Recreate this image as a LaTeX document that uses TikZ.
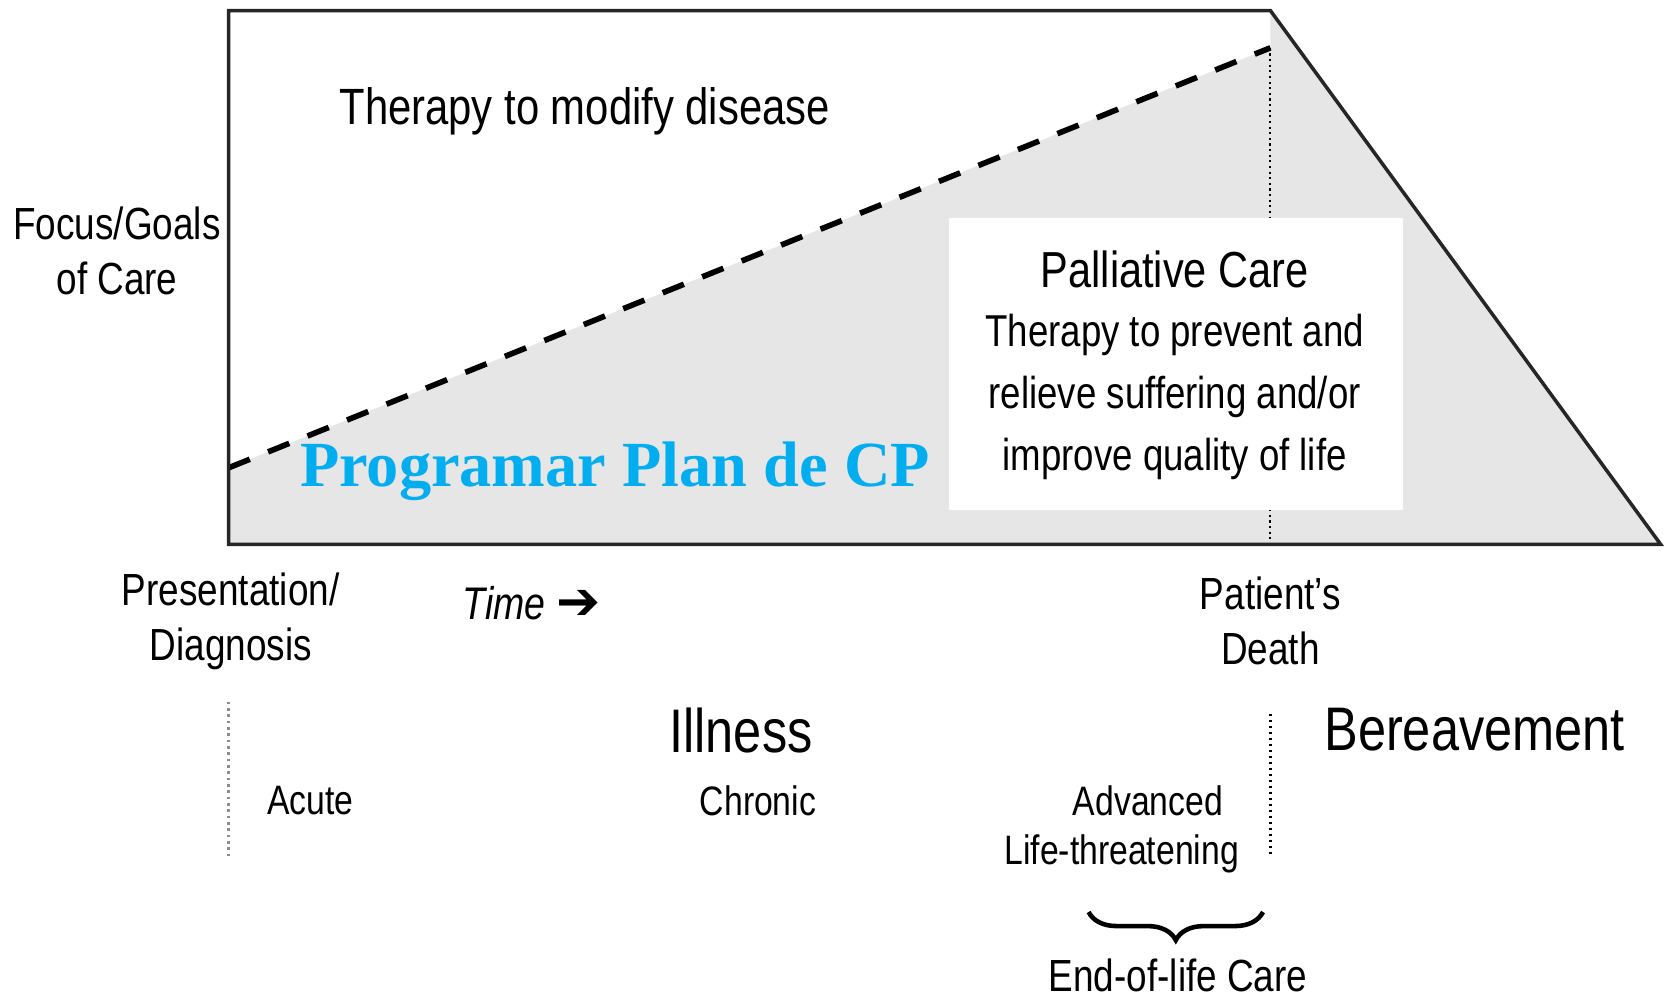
\documentclass[tikz,border=0pt]{standalone}
\usepackage{fontspec}
\setmainfont{Liberation Sans}[FakeStretch=0.82]
\newfontfamily\cpfont{Liberation Serif}
\newfontfamily\arrowfont{DejaVu Sans}
\usetikzlibrary{decorations.pathreplacing}
\definecolor{caregray}{RGB}{230,230,230}
\definecolor{cpblue}{RGB}{0,174,239}

\begin{document}
\begin{tikzpicture}[x=0.01cm,y=-0.01cm,
  lbl/.style={inner sep=0pt, align=center},
  small/.style={lbl, font=\fontsize{11.7}{14}\selectfont},
  mid/.style={lbl, font=\fontsize{12.8}{15.7}\selectfont},
  big/.style={lbl, font=\fontsize{17.5}{20}\selectfont}]

\useasboundingbox (0,0) rectangle (1667,997);

% corners of the plot
\coordinate (origin) at (228.6,544.3);
\coordinate (topleft) at (228.6,10.6);
\coordinate (death) at (1270.4,10.6);
\coordinate (deathbase) at (1270.4,544.3);
\coordinate (end) at (1660.6,544.3);
\coordinate (dashstart) at (228.6,467.8);
\coordinate (dashend) at (1270.4,47.8);

% shaded area
\fill[caregray] (origin) -- (dashstart) -- (dashend) -- (death) -- (end) -- cycle;
% death line
\draw[densely dotted, line width=0.6pt] (dashend) -- (deathbase);
% palliative box
\fill[white] (949,218) rectangle (1403,510);
% disease therapy
\draw[line width=1.6pt, dash pattern=on 6.5pt off 5.6pt] (dashstart) -- (dashend);
% frame
\draw[line width=1pt, black!85] (origin) -- (topleft) -- (death) -- (end) -- cycle;

% labels inside
\node[lbl, font=\fontsize{14.5}{17}\selectfont] (modify) at (584.7,111.6) {Therapy to modify disease};
\node[lbl, font=\fontsize{14.4}{17}\selectfont] (palliative) at (1174.7,269) {Palliative Care};
\node[lbl, font=\fontsize{12.7}{17.6}\selectfont] (prevent) at (1174.7,397) {Therapy to prevent and\\relieve suffering and/or\\improve quality of life};
\node[lbl, text=cpblue, font=\cpfont\bfseries\fontsize{18.3}{20}\selectfont] (plan) at (615,471) {Programar Plan de CP};

% vertical axis
\node[mid] (focus) at (117,251) {Focus/Goals\\of Care};

% horizontal axis
\node[mid] (diagnosis) at (230.7,621) {Presentation/\\Diagnosis};
\node[lbl, font=\fontsize{13}{15}\selectfont] (time) at (531.5,602.8) {\textit{Time} {\arrowfont\bfseries\fontsize{15}{15}\selectfont ➔}};
\node[mid] (patient) at (1270.4,621) {Patient's\\Death};

% phases
\node[big] (illness) at (741,730) {Illness};
\node[big] (bereavement) at (1474.5,730) {Bereavement};
\node[small] (acute) at (310.4,800.5) {Acute};
\node[small] (chronic) at (758,800.5) {Chronic};
\node[small] (advanced) at (1148,800.5) {Advanced};
\node[small] (threat) at (1121.6,853.7) {Life-threatening};
\draw[densely dotted, line width=0.8pt, black!45] (228.6,701.6) -- (228.6,855.8);
\draw[densely dotted, line width=0.7pt] (1270.4,714) -- (1270.4,856);

% end of life
\coordinate (braceright) at (1263,912);
\coordinate (braceleft) at (1088.6,912);
\draw[line width=1.3pt, decorate, decoration={brace, amplitude=8pt}] (braceright) -- (braceleft);
\node[mid] (eol) at (1178,975) {End-of-life Care};

\end{tikzpicture}
\end{document}
